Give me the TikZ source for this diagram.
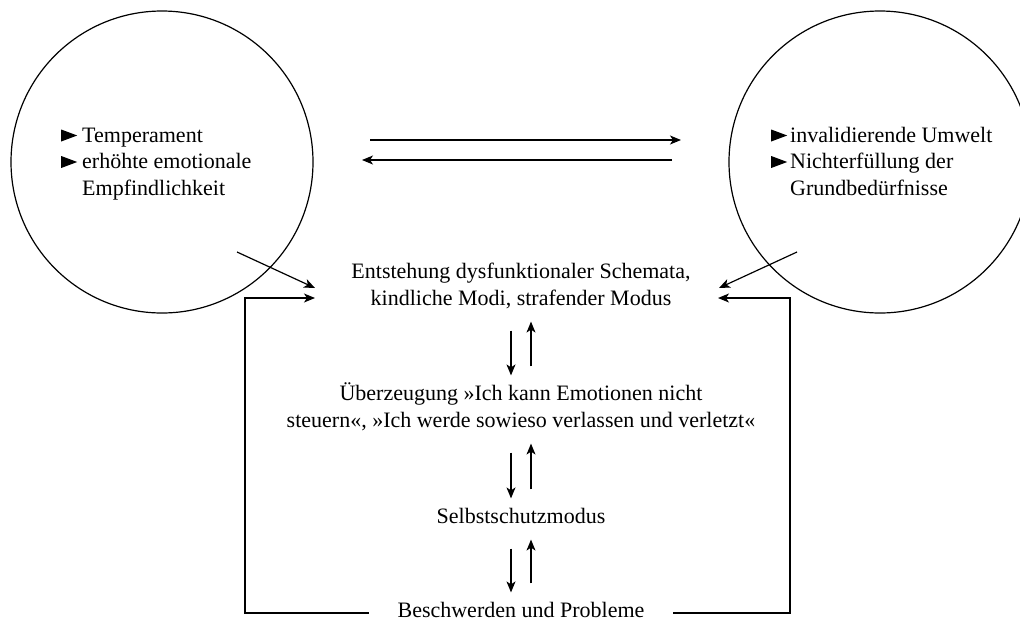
\documentclass[tikz,border=0pt]{standalone}
\usepackage{fontspec}
\setmainfont{Liberation Serif}
\usetikzlibrary{arrows.meta,calc}

% small filled pointer used as list bullet
\newcommand\tri{\tikz[baseline=0pt,x=1pt,y=1pt]\fill (0,0.5) -- (16,6.5) -- (0,12.5) -- cycle;}

\begin{document}
\begin{tikzpicture}[x=1pt,y=-1pt,line width=1.2pt,
  arr/.style={-{Stealth[length=11pt,width=9pt,inset=3pt]}},
  bigfont/.style={font=\fontsize{22}{26.5}\selectfont},
  txt/.style={bigfont,inner sep=0pt,text height=16pt,text depth=5pt},
  ring/.style={draw,circle,minimum size=302pt,inner sep=0pt}]
\useasboundingbox (0,0) rectangle (1020,622);

% the two influence circles
\node[ring] (cl) at (162,162) {};
\node[ring] (cr) at (880,162) {};

\node[bigfont,anchor=base west,inner sep=0pt] (tl) at (61,142)
  {\begin{tabular}[t]{@{}l@{\hspace{5pt}}l@{}}\tri & Temperament\\ \tri & erhöhte emotionale\\ & Empfindlichkeit\end{tabular}};
\node[bigfont,anchor=base west,inner sep=0pt] (tr) at (771,142)
  {\begin{tabular}[t]{@{}l@{\hspace{3pt}}l@{}}\tri & invalidierende Umwelt\\ \tri & Nichterfüllung der\\ & Grundbedürfnisse\end{tabular}};

% interaction between the circles
\coordinate (h1a) at (370,140); \coordinate (h1b) at (681,140);
\coordinate (h2a) at (672,160); \coordinate (h2b) at (362,160);
\draw[arr] (h1a) -- (h1b);
\draw[arr] (h2a) -- (h2b);

% central chain
\node[txt,anchor=base] (e1) at (521,278) {Entstehung dysfunktionaler Schemata,};
\node[txt,anchor=base] (e2) at (521,305) {kindliche Modi, strafender Modus};
\node[txt,anchor=base] (u1) at (521,400) {Überzeugung »Ich kann Emotionen nicht};
\node[txt,anchor=base] (u2) at (521,427) {steuern«, »Ich werde sowieso verlassen und verletzt«};
\node[txt,anchor=base] (s) at (521,523) {Selbstschutzmodus};
\node[txt,anchor=base,inner xsep=28pt] (b) at (521,617) {Beschwerden und Probleme};

\foreach \p/\q in {e2/u1,u2/s,s/b}{
  \draw[arr] ($(\p.south)+(-10,20)$) -- ($(\q.north)+(-10,-8)$);
  \draw[arr] ($(\q.north)+(10,-17)$) -- ($(\p.south)+(10,11)$);
}

% circles feeding into the schemata
\coordinate (dl0) at (237,252); \coordinate (dl1) at (315,288);
\coordinate (dr0) at (797,252); \coordinate (dr1) at (719,288);
\draw[arr] (dl0) -- (dl1);
\draw[arr] (dr0) -- (dr1);

% feedback loops
\coordinate (fl) at (315,298);
\coordinate (fr) at (718,298);
\draw[arr] ([yshift=-1.5pt]b.west) -| ([xshift=-70pt]fl) -- (fl);
\draw[arr] ([yshift=-1.5pt]b.east) -| ([xshift=72pt]fr) -- (fr);
\end{tikzpicture}
\end{document}
